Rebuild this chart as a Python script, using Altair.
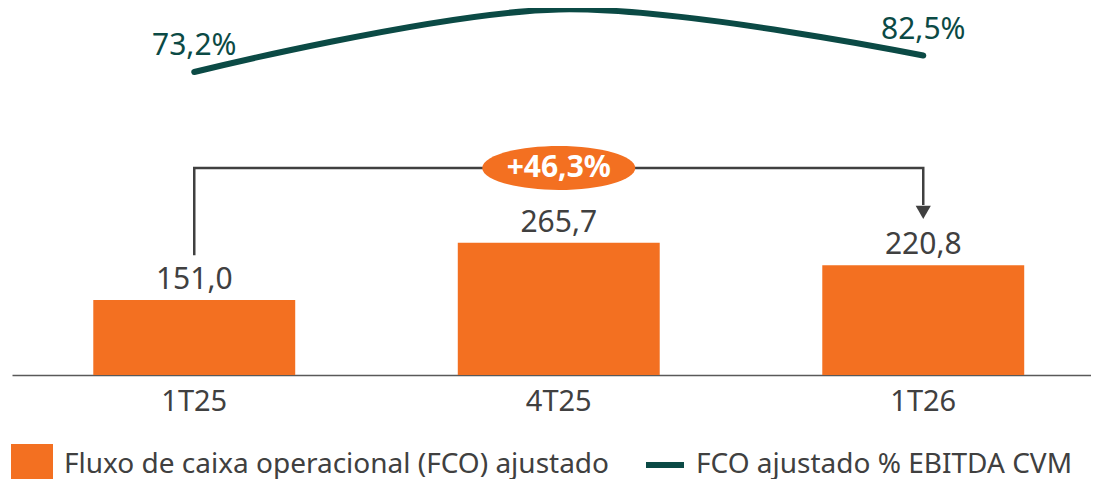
import altair as alt
import pandas as pd

# ---------------- data ----------------
periods = ["1T25", "4T25", "1T26"]
fco = [151.0, 265.7, 220.8]
fco_labels = ["151,0", "265,7", "220,8"]
fco_pct = [73.2, 108.5, 82.5]
fco_pct_labels = ["73,2%", "", "82,5%"]
variation_label = "+46,3%"
bar_series = "Fluxo de caixa operacional (FCO) ajustado"
line_series = "FCO ajustado % EBITDA CVM"

# bracket annotation path (category, level in FCO units)
bracket_x = ["1T25", "1T25", "1T26", "1T26"]
bracket_y = [241.0, 416.5, 416.5, 342.0]
arrow_x = ["1T26"]
arrow_y = [327.0]
badge_x = ["4T25"]
badge_y = [416.5]

# ---------------- style ----------------
ORANGE = "#F37021"
GREEN = "#0B4A45"
TEXT = "#404040"
FONT = "Noto Sans"

df = pd.DataFrame({
    "period": periods,
    "fco": fco,
    "fco_label": fco_labels,
    "pct": fco_pct,
    "pct_label": fco_pct_labels,
})
bracket_df = pd.DataFrame({"period": bracket_x, "level": bracket_y,
                           "order": list(range(len(bracket_x)))})
arrow_df = pd.DataFrame({"period": arrow_x, "level": arrow_y})
badge_df = pd.DataFrame({"period": badge_x, "level": badge_y, "label": [variation_label]})

x_enc = alt.X(
    "period:N",
    sort=periods,
    scale=alt.Scale(domain=periods, range=[0, 1093.5], paddingInner=0.446, paddingOuter=0.223),
    axis=alt.Axis(title=None, labelAngle=0, ticks=False, tickSize=0, labelFontSize=29,
                  labelColor=TEXT, labelPadding=12, domainColor="#595959", domainWidth=1.5,
                  labelFont=FONT),
)
y_bar_scale = alt.Scale(domain=[0, 738], nice=False, zero=True)
y_line_scale = alt.Scale(domain=[-97.6, 109.3], nice=False, zero=False)

base = alt.Chart(df)

bars = base.mark_bar(opacity=1).transform_calculate(series=f"'{bar_series}'").encode(
    x=x_enc,
    y=alt.Y("fco:Q", scale=y_bar_scale, axis=None),
    fill=alt.Fill("series:N", scale=alt.Scale(domain=[bar_series], range=[ORANGE]),
                  legend=alt.Legend(title=None, orient="none", legendX=-1, legendY=436,
                                    symbolType="square", symbolSize=1764, symbolStrokeWidth=0,
                                    labelFontSize=28, labelColor=TEXT, labelFont=FONT,
                                    labelOffset=11, padding=0, labelLimit=800)),
)

bar_text = base.mark_text(dy=-11, baseline="alphabetic", fontSize=30, color=TEXT, font=FONT).encode(
    x=alt.X("period:N", sort=periods),
    y=alt.Y("fco:Q", scale=y_bar_scale, axis=None),
    text="fco_label:N",
)

bracket = alt.Chart(bracket_df).mark_line(color=TEXT, strokeWidth=2.5, strokeJoin="miter").encode(
    x=alt.X("period:N", sort=periods),
    y=alt.Y("level:Q", scale=y_bar_scale, axis=None),
    order="order:Q",
)

arrow = alt.Chart(arrow_df).mark_point(shape="triangle-down", filled=True, size=230,
                                       color=TEXT, opacity=1).encode(
    x=alt.X("period:N", sort=periods),
    y=alt.Y("level:Q", scale=y_bar_scale, axis=None),
)

ellipse_path = "M -1 0 A 1 0.2876 0 1 0 1 0 A 1 0.2876 0 1 0 -1 0 Z"
badge = alt.Chart(badge_df).mark_point(shape=ellipse_path, filled=True, size=23409,
                                       color=ORANGE, opacity=1).encode(
    x=alt.X("period:N", sort=periods),
    y=alt.Y("level:Q", scale=y_bar_scale, axis=None),
)
badge_text = alt.Chart(badge_df).mark_text(fontSize=30, fontWeight="bold", color="white",
                                           baseline="middle", font=FONT).encode(
    x=alt.X("period:N", sort=periods),
    y=alt.Y("level:Q", scale=y_bar_scale, axis=None),
    text="label:N",
)

line = base.mark_line(interpolate="cardinal", strokeWidth=6, strokeCap="round").transform_calculate(
    series2=f"'{line_series}'").encode(
    x=alt.X("period:N", sort=periods),
    y=alt.Y("pct:Q", scale=y_line_scale, axis=None),
    stroke=alt.Stroke("series2:N", scale=alt.Scale(domain=[line_series], range=[GREEN]),
                      legend=alt.Legend(title=None, orient="none", legendX=631, legendY=435,
                                        symbolType="stroke", symbolSize=1444, symbolStrokeWidth=6,
                                        labelFontSize=28, labelColor=TEXT, labelFont=FONT,
                                        labelOffset=9, padding=0, labelLimit=800)),
)

line_text = base.transform_filter("datum.pct_label != ''").mark_text(
    dy=-17, baseline="alphabetic", fontSize=30, color=GREEN, font=FONT).encode(
    x=alt.X("period:N", sort=periods),
    y=alt.Y("pct:Q", scale=y_line_scale, axis=None),
    text="pct_label:N",
)

chart = alt.layer(bars, bar_text, bracket, arrow, badge, badge_text, line, line_text).resolve_scale(
    y="independent"
).properties(
    width=1079, height=367, autosize="none",
    padding={"left": 4, "top": 0, "right": 0, "bottom": 104},
).configure(font=FONT).configure_view(stroke=None)

chart.save("out.html", embed_options={"renderer": "svg", "actions": False})
